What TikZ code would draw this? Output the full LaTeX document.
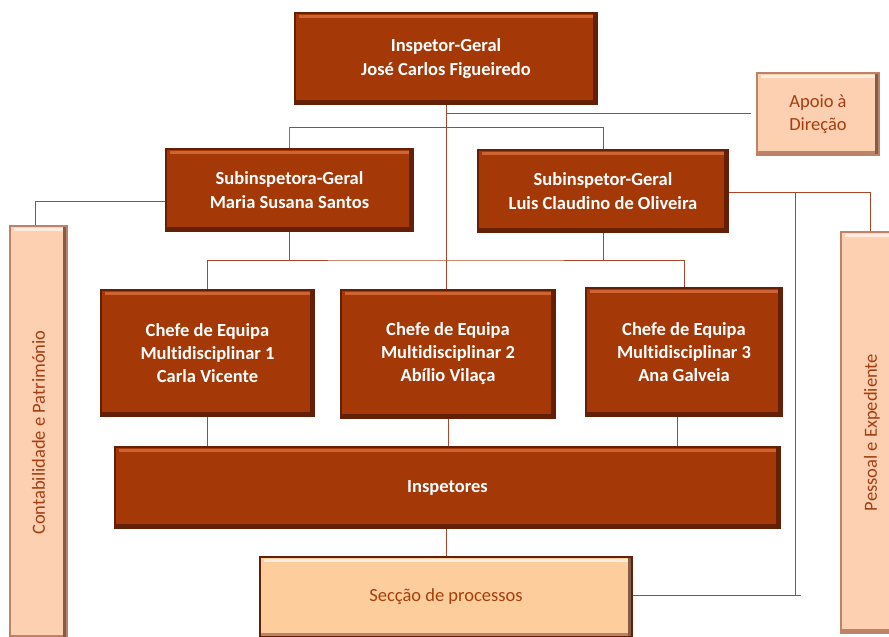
\documentclass[tikz,border=0pt]{standalone}
\usepackage{fontspec}
\setmainfont{Carlito}[Ligatures=NoCommon]
\definecolor{rouille}{RGB}{164,57,7}
\definecolor{rouillefonce}{RGB}{100,32,6}
\definecolor{rouilleclair}{RGB}{205,100,50}
\definecolor{peche}{RGB}{253,208,178}
\definecolor{pechefonce}{RGB}{190,130,105}
\definecolor{orangeclair}{RGB}{253,205,155}
\definecolor{trait}{RGB}{172,70,40}
\definecolor{texteclair}{RGB}{165,62,15}
\tikzset{
  boite/.style={draw=rouillefonce, line width=1.2pt, fill=rouille, text=white,
    font=\bfseries\fontsize{18.5}{24}\selectfont, align=center, inner sep=0pt,
    path picture={
      \fill[rouilleclair] ([xshift=4pt,yshift=-2pt]path picture bounding box.north west)
        rectangle ([xshift=-4pt,yshift=-5pt]path picture bounding box.north east);
      \fill[rouillefonce] ([yshift=4pt]path picture bounding box.south west)
        rectangle (path picture bounding box.south east);
      \fill[rouillefonce] ([xshift=-4pt]path picture bounding box.south east)
        rectangle (path picture bounding box.north east);}},
  appui/.style={draw=pechefonce, line width=1.2pt, fill=peche, text=texteclair,
    font=\fontsize{18.5}{23}\selectfont, align=center, inner sep=0pt,
    path picture={
      \fill[white!60!peche] ([xshift=4pt,yshift=-2pt]path picture bounding box.north west)
        rectangle ([xshift=-4pt,yshift=-5pt]path picture bounding box.north east);
      \fill[pechefonce] ([yshift=4pt]path picture bounding box.south west)
        rectangle (path picture bounding box.south east);
      \fill[pechefonce!70!black] ([xshift=-4pt]path picture bounding box.south east)
        rectangle (path picture bounding box.north east);}},
  lien/.style={draw=trait, line width=0.8pt}
}
\begin{document}
\begin{tikzpicture}[x=1pt,y=-1pt]
    \useasboundingbox (0,0) rectangle (889,637);
    % Direction
    \node[boite, minimum width=302pt, minimum height=91pt] (ig) at (446,58.5)
        {Inspetor-Geral\\José Carlos Figueiredo};
    \node[appui, minimum width=122pt, minimum height=82pt] (apoio) at (818,114)
        {Apoio à\\Direção};
    % Subinspetores
    \node[boite, minimum width=247pt, minimum height=82pt] (subA) at (289.5,190)
        {Subinspetora-Geral\\Maria Susana Santos};
    \node[boite, minimum width=250pt, minimum height=82pt] (subB) at (603,191)
        {Subinspetor-Geral\\Luis Claudino de Oliveira};
    % Servicos lateraux
    \node[appui, minimum width=57pt, minimum height=413pt] (cont) at (38.5,432.5) {};
    \node[rotate=90, text=texteclair, font=\fontsize{18.5}{22}\selectfont] at (cont.center)
        {Contabilidade e Património};
    \node[appui, minimum width=62pt, minimum height=401pt] (pess) at (872,432.5) {};
    \node[rotate=90, text=texteclair, font=\fontsize{18.5}{22}\selectfont] at (pess.center)
        {Pessoal e Expediente};
    % Chefes de equipa
    \node[boite, font=\bfseries\fontsize{18.5}{23}\selectfont, minimum width=213pt,
        minimum height=126pt] (ch1) at (207.5,353)
        {Chefe de Equipa\\Multidisciplinar 1\\Carla Vicente};
    \node[boite, font=\bfseries\fontsize{18.5}{23}\selectfont, minimum width=214pt,
        minimum height=128pt] (ch2) at (448,354)
        {Chefe de Equipa\\Multidisciplinar 2\\Abílio Vilaça};
    \node[boite, font=\bfseries\fontsize{18.5}{23}\selectfont, minimum width=196pt,
        minimum height=128pt] (ch3) at (684,352)
        {Chefe de Equipa\\Multidisciplinar 3\\Ana Galveia};
    % Inspetores et seccao
    \node[boite, minimum width=665pt, minimum height=81pt] (insp) at (447.5,487.5) {Inspetores};
    \node[appui, fill=orangeclair, draw=rouillefonce, minimum width=372pt, minimum height=80pt]
        (sec) at (446,597) {Secção de processos};
    % Jonctions
    \coordinate (busT) at (446,127);
    \coordinate (busM) at (446,260);
    \coordinate (jP) at (795,192);
    % Liens
    \draw[lien] (ig.south) -- (ig.south |- ch2.north);
    \draw[lien] (ig.south |- 0,113) -- ([xshift=-5pt]apoio.west |- 0,113);
    \draw[lien] (subA.north |- busT) -- (subB.north |- busT) -- (subB.north);
    \draw[draw=blue!60!white, line width=0.8pt] (subA.north |- busT) -- (subA.north);
    \draw[lien] ([yshift=-11pt]subA.west) -| ([xshift=-3pt]cont.north);
    \draw[lien] ([yshift=-1pt]subB.east) -| ([xshift=-2pt]pess.north);
    \draw[lien] (jP) -- (jP |- 0,595);
    \draw[lien] (sec.east |- 0,595) -- ([xshift=6pt]jP |- 0,595);
    \draw[lien] (subA.south) -- (subA.south |- busM);
    \draw[lien] (subB.south) -- (subB.south |- busM);
    \draw[lien] (ch1.north) |- (busM) -| (ch3.north);
    \draw[lien] (ch1.south) -- (ch1.south |- insp.north);
    \draw[lien] (ch2.south) -- (ch2.south |- insp.north);
    \draw[lien] ([xshift=-7pt]ch3.south) -- ([xshift=-7pt]ch3.south |- insp.north);
    \draw[lien] (insp.south -| sec.north) -- (sec.north);
\end{tikzpicture}
\end{document}
